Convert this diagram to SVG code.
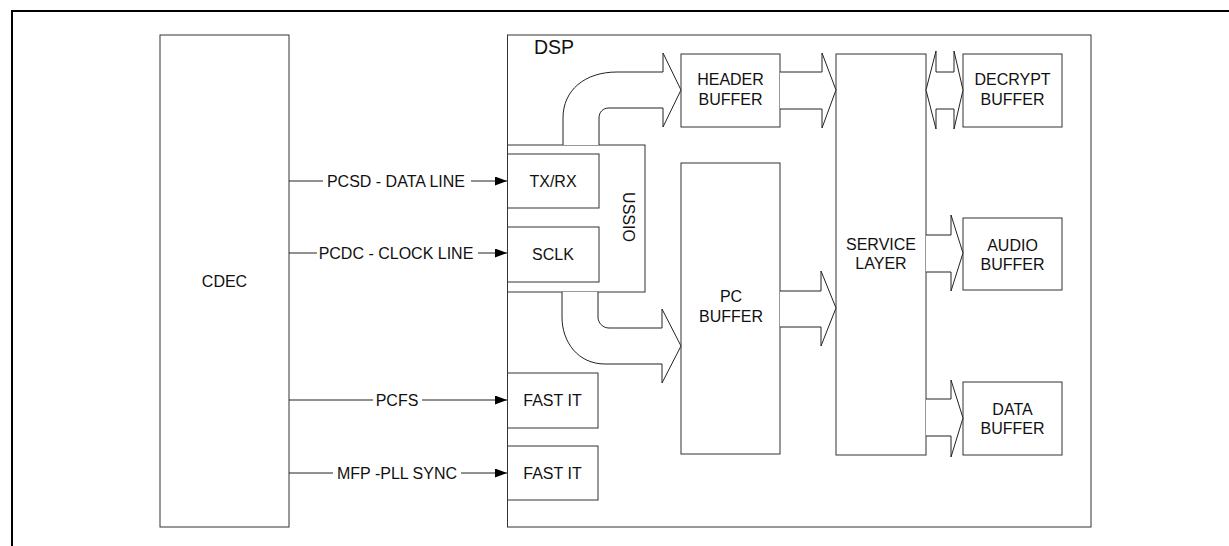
<svg xmlns="http://www.w3.org/2000/svg" width="1229" height="546" viewBox="0 0 1229 546">
<style>
.box{fill:#fff;stroke:#333;stroke-width:1}
.blk{fill:#fff;stroke:#222;stroke-width:1;stroke-linejoin:miter}
.ln{stroke:#222;stroke-width:1;fill:none}
text{font-family:"Liberation Sans",Arial,sans-serif;font-size:16px;fill:#111;text-anchor:middle}
</style>
<defs>
<marker id="ah" markerUnits="userSpaceOnUse" markerWidth="12" markerHeight="10" refX="12" refY="4.5" orient="auto">
<path d="M0,0 L12,4.5 L0,9 Z" fill="#000"/>
</marker>
</defs>
<rect width="1229" height="546" fill="#fff"/>
<path d="M12,546 V11 H1229" fill="none" stroke="#000" stroke-width="2"/>

<g id="cdec"><rect class="box" x="160" y="35" width="129" height="492"/><text x="224.5" y="287">CDEC</text></g>
<g id="dsp"><rect class="box" x="507.5" y="35" width="583.5" height="492"/><text x="554" y="54" style="font-size:19.5px">DSP</text></g>
<g id="ussio"><rect class="box" x="507.5" y="145" width="137.5" height="147"/><text transform="translate(623,217) rotate(90)">USSIO</text></g>
<g id="txrx"><rect class="box" x="507.5" y="154" width="91.5" height="54"/><text x="553" y="187">TX/RX</text></g>
<g id="sclk"><rect class="box" x="507.5" y="227" width="91.5" height="55"/><text x="553" y="260">SCLK</text></g>
<g id="fastit1"><rect class="box" x="507.5" y="373" width="90.5" height="55"/><text x="552.5" y="406">FAST IT</text></g>
<g id="fastit2"><rect class="box" x="507.5" y="446" width="90.5" height="54"/><text x="552.5" y="479">FAST IT</text></g>
<g id="header"><rect class="box" x="681" y="54" width="99" height="73"/><text x="730.5" y="85">HEADER</text><text x="730.5" y="105">BUFFER</text></g>
<g id="pcbuf"><rect class="box" x="681" y="163" width="99" height="291"/><text x="731" y="302">PC</text><text x="731" y="322">BUFFER</text></g>
<g id="service"><rect class="box" x="836" y="54" width="90" height="401"/><text x="881" y="250">SERVICE</text><text x="881" y="269">LAYER</text></g>
<g id="decrypt"><rect class="box" x="963" y="54" width="99" height="73"/><text x="1012.5" y="85">DECRYPT</text><text x="1012.5" y="105">BUFFER</text></g>
<g id="audio"><rect class="box" x="963" y="218" width="99" height="72"/><text x="1012.5" y="251">AUDIO</text><text x="1012.5" y="270">BUFFER</text></g>
<g id="data"><rect class="box" x="963" y="382" width="99" height="73"/><text x="1012.5" y="415">DATA</text><text x="1012.5" y="434">BUFFER</text></g>

<g id="connectors">
<path class="blk" d="M563,145 V118 C563,90 585,72 617,72 H663 V53 L681,90 L663,127 V108 H609 C603,108 599,112 599,118 V145"/>
<path class="blk" d="M562,292 V317 C562,342 578,364 605,364 H662 V383 L681,346 L662,309 V328 H609 C603,328 598,323 598,317 V292"/>
<path class="blk" d="M780,72 H822 V53 L836,90 L822,128 V109 H780"/>
<path class="blk" d="M780,291 H821 V271 L836,308 L821,346 V327 H780"/>
<path class="blk" d="M926,90 L936,51 V72 H954 V51 L963,90 L954,129 V109 H936 V129 Z"/>
<path class="blk" d="M926,235 H951 V215 L963,253 L951,291 V272 H926"/>
<path class="blk" d="M926,399 H951 V380 L963,418 L951,457 V436 H926"/>

<line class="ln" x1="289" y1="181" x2="323" y2="181"/>
<line class="ln" x1="471" y1="181" x2="507" y2="181" marker-end="url(#ah)"/>
<text x="396" y="187">PCSD - DATA LINE</text>
<line class="ln" x1="289" y1="253" x2="317" y2="253"/>
<line class="ln" x1="478" y1="253" x2="507" y2="253" marker-end="url(#ah)"/>
<text x="396" y="259">PCDC - CLOCK LINE</text>
<line class="ln" x1="289" y1="400" x2="373" y2="400"/>
<line class="ln" x1="422" y1="400" x2="507" y2="400" marker-end="url(#ah)"/>
<text x="397" y="406">PCFS</text>
<line class="ln" x1="289" y1="473" x2="333" y2="473"/>
<line class="ln" x1="461" y1="473" x2="507" y2="473" marker-end="url(#ah)"/>
<text x="397" y="479">MFP -PLL SYNC</text>
</g>
</svg>
